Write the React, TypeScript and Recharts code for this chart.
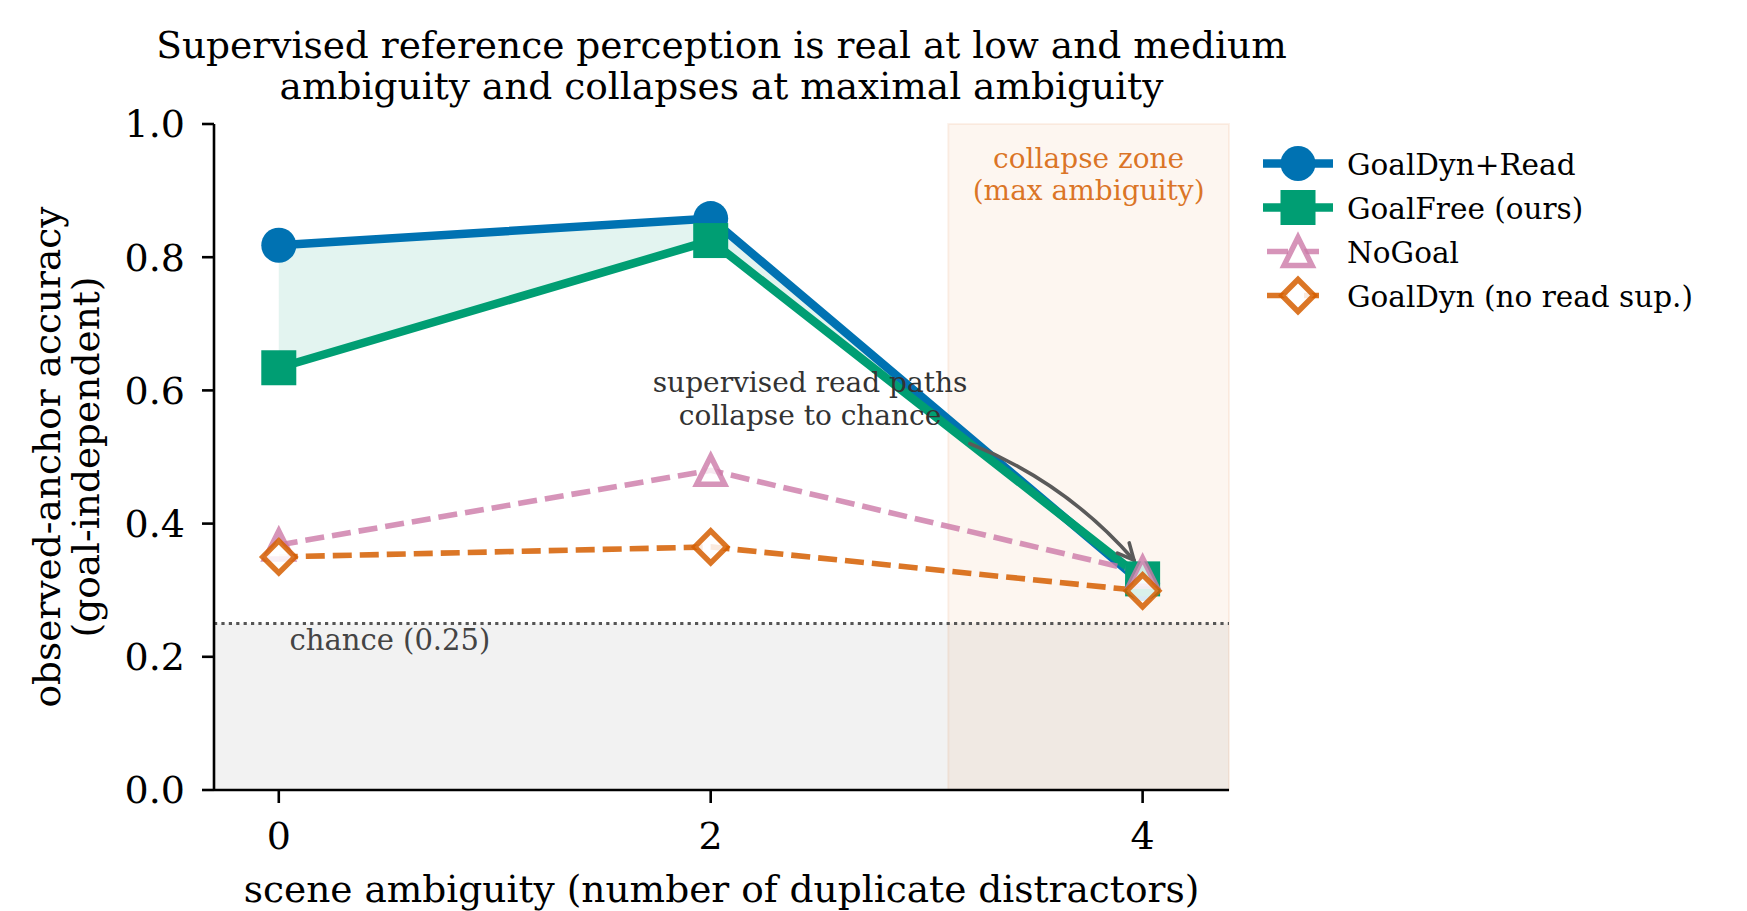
import React from 'react';
import {
  ComposedChart,
  Line,
  Area,
  XAxis,
  YAxis,
  ReferenceArea,
  ReferenceLine,
  ReferenceDot,
} from 'recharts';

// number of duplicate distractors in the scene
const ambiguity = [0, 2, 4];

// observed-anchor accuracy per model
const goalDynRead = [0.818, 0.858, 0.31];
const goalFree = [0.634, 0.825, 0.317];
const noGoal = [0.368, 0.48, 0.327];
const goalDynNoRead = [0.35, 0.365, 0.299];

const xTicks = [0, 2, 4];
const yTicks = [0, 0.2, 0.4, 0.6, 0.8, 1.0];
const chanceLevel = 0.25;
const collapseZone = [3.1, 4.4];
const xDomain = [-0.3, 4.4];

const titleLines = [
  'Supervised reference perception is real at low and medium',
  'ambiguity and collapses at maximal ambiguity',
];
const yLabelLines = ['observed-anchor accuracy', '(goal-independent)'];
const xLabel = 'scene ambiguity (number of duplicate distractors)';
const noteLines = ['supervised read paths', 'collapse to chance'];
const collapseLines = ['collapse zone', '(max ambiguity)'];

const W = 1747;
const H = 911;
const FONT = '"DejaVu Serif", serif';

const BLUE = '#0072B2';
const GREEN = '#009E73';
const PINK = '#CC79A7';
const ORANGE = '#D55E00';

type MarkerKind = 'circle' | 'square' | 'triangle' | 'diamond';

interface SeriesDef {
  key: string;
  name: string;
  values: number[];
  color: string;
  opacity: number;
  width: number;
  dash?: string;
  marker: MarkerKind;
}

const series: SeriesDef[] = [
  { key: 'read', name: 'GoalDyn+Read', values: goalDynRead, color: BLUE, opacity: 1, width: 8.5, marker: 'circle' },
  { key: 'free', name: 'GoalFree (ours)', values: goalFree, color: GREEN, opacity: 1, width: 8.5, marker: 'square' },
  { key: 'nogoal', name: 'NoGoal', values: noGoal, color: PINK, opacity: 0.8, width: 5.6, dash: '19 8', marker: 'triangle' },
  { key: 'noread', name: 'GoalDyn (no read sup.)', values: goalDynNoRead, color: ORANGE, opacity: 0.85, width: 5.6, dash: '19 8', marker: 'diamond' },
];

const rows = ambiguity.map((a, i) => {
  const row: Record<string, any> = { a, gap: [goalFree[i], goalDynRead[i]] };
  series.forEach((s) => {
    row[s.key] = s.values[i];
  });
  return row;
});

function Marker({ kind, cx, cy, color, opacity }: { kind: MarkerKind; cx: number; cy: number; color: string; opacity: number }) {
  if (kind === 'circle') {
    return <circle cx={cx} cy={cy} r={17.5} fill={color} />;
  }
  if (kind === 'square') {
    return <rect x={cx - 17.5} y={cy - 17.5} width={35} height={35} fill={color} />;
  }
  if (kind === 'triangle') {
    const h = 14;
    return (
      <path
        d={`M${cx},${cy - h} L${cx + h},${cy + h} L${cx - h},${cy + h} Z`}
        fill="#fff"
        fillOpacity={opacity}
        stroke={color}
        strokeOpacity={opacity}
        strokeWidth={5.5}
        strokeLinejoin="miter"
      />
    );
  }
  const d = 16;
  return (
    <path
      d={`M${cx},${cy - d} L${cx + d},${cy} L${cx},${cy + d} L${cx - d},${cy} Z`}
      fill="#fff"
      fillOpacity={opacity}
      stroke={color}
      strokeOpacity={opacity}
      strokeWidth={5.5}
    />
  );
}

// curved annotation arrow, bent like an arc3 connector
const CurvedArrow = (props: any) => {
  const { x1, y1, x2, y2 } = props;
  if ([x1, y1, x2, y2].some((v) => typeof v !== 'number')) return <g />;
  const rad = 0.12;
  const dx = x2 - x1;
  const dy = y2 - y1;
  const mx = (x1 + x2) / 2 + rad * dy;
  const my = (y1 + y2) / 2 - rad * dx;
  const ang = Math.atan2(y2 - my, x2 - mx);
  const len = 18;
  const spread = 0.45;
  const ax = x2 - len * Math.cos(ang - spread);
  const ay = y2 - len * Math.sin(ang - spread);
  const bx = x2 - len * Math.cos(ang + spread);
  const by = y2 - len * Math.sin(ang + spread);
  return (
    <g fill="none" stroke="#5a5a5a" strokeWidth={3.6} strokeLinecap="round">
      <path d={`M${x1},${y1} Q${mx},${my} ${x2},${y2}`} />
      <path d={`M${ax},${ay} L${x2},${y2} L${bx},${by}`} />
    </g>
  );
};

const NoteText = (props: any) => (
  <text x={props.cx} y={props.cy} textAnchor="middle" fontSize={28} fill="#333" fontFamily={FONT}>
    <tspan x={props.cx} dy={-8}>{noteLines[0]}</tspan>
    <tspan x={props.cx} dy={33}>{noteLines[1]}</tspan>
  </text>
);

const ChanceText = (props: any) => (
  <text x={props.cx} y={props.cy + 26} fontSize={29} fill="#444" fontFamily={FONT}>
    chance ({chanceLevel.toFixed(2)})
  </text>
);

const CollapseText = (props: any) => (
  <text x={props.cx} y={props.cy} textAnchor="middle" fontSize={28} fill={ORANGE} fillOpacity={0.85} fontFamily={FONT}>
    <tspan x={props.cx} dy={24}>{collapseLines[0]}</tspan>
    <tspan x={props.cx} dy={32}>{collapseLines[1]}</tspan>
  </text>
);

function LegendBox() {
  const x0 = 1263;
  const x1 = 1333;
  const mid = (x0 + x1) / 2;
  return (
    <g>
      {series.map((s, i) => {
        const y = 163.5 + i * 44;
        return (
          <g key={s.key}>
            {s.dash ? (
              <line x1={x0 + 4} x2={x1 - 14} y1={y} y2={y} stroke={s.color} strokeOpacity={s.opacity} strokeWidth={s.width} strokeDasharray="21 16" />
            ) : (
              <line x1={x0} x2={x1} y1={y} y2={y} stroke={s.color} strokeWidth={s.width} />
            )}
            <Marker kind={s.marker} cx={mid} cy={y} color={s.color} opacity={s.opacity} />
            <text x={1347} y={y + 11.5} fontSize={29.5} fill="#000" fontFamily={FONT}>
              {s.name}
            </text>
          </g>
        );
      })}
    </g>
  );
}

export default function App() {
  return (
    <div style={{ position: 'relative', width: W, height: H, fontFamily: FONT, background: '#fff' }}>
      <style>{'body{margin:0}'}</style>
      <ComposedChart
        width={W}
        height={H}
        data={rows}
        margin={{ top: 124, right: 518, bottom: 0, left: 0 }}
      >
        <XAxis
          dataKey="a"
          type="number"
          domain={xDomain}
          ticks={xTicks}
          allowDataOverflow
          height={121}
          stroke="#000"
          axisLine={{ stroke: '#000', strokeWidth: 2.6 }}
          tickLine={{ stroke: '#000', strokeWidth: 2.6 }}
          tickSize={13}
          tickMargin={19}
          tick={{ fill: '#000', fontSize: 38, fontFamily: FONT }}
        />
        <YAxis
          type="number"
          domain={[0, 1]}
          ticks={yTicks}
          allowDataOverflow
          width={214}
          axisLine={{ stroke: '#000', strokeWidth: 2.6 }}
          tickLine={{ stroke: '#000', strokeWidth: 2.6 }}
          tickSize={12}
          tickMargin={17}
          tickFormatter={(v: number) => v.toFixed(1)}
          tick={{ fill: '#000', fontSize: 38, fontFamily: FONT }}
        />
        <ReferenceArea y1={0} y2={chanceLevel} fill="#7f7f7f" fillOpacity={0.1} stroke="none" />
        <ReferenceArea
          x1={collapseZone[0]}
          x2={collapseZone[1]}
          fill={ORANGE}
          fillOpacity={0.06}
          stroke={ORANGE}
          strokeOpacity={0.08}
          strokeWidth={2}
        />
        <ReferenceLine y={chanceLevel} stroke="#555" strokeWidth={3.2} strokeDasharray="3.2 4.2" />
        <ReferenceDot x={0.05} y={chanceLevel} r={0} shape={ChanceText} />
        <Area
          dataKey="gap"
          type="linear"
          fill={GREEN}
          fillOpacity={0.11}
          stroke="none"
          dot={false}
          activeDot={false}
          isAnimationActive={false}
        />
        {series.map((s) => (
          <Line
            key={s.key}
            dataKey={s.key}
            type="linear"
            stroke={s.color}
            strokeOpacity={s.opacity}
            strokeWidth={s.width}
            strokeDasharray={s.dash}
            activeDot={false}
            isAnimationActive={false}
            dot={(p: any) => (
              <Marker key={`${s.key}-${p.index}`} kind={s.marker} cx={p.cx} cy={p.cy} color={s.color} opacity={s.opacity} />
            )}
          />
        ))}
        <ReferenceLine
          segment={[
            { x: 3.2, y: 0.52 },
            { x: 3.96, y: 0.345 },
          ]}
          shape={CurvedArrow}
        />
        <ReferenceDot x={2.46} y={0.585} r={0} shape={NoteText} />
        <ReferenceDot x={3.75} y={0.97} r={0} shape={CollapseText} />
      </ComposedChart>
      <svg
        width={W}
        height={H}
        style={{ position: 'absolute', left: 0, top: 0, pointerEvents: 'none' }}
        fontFamily={FONT}
      >
        <text x={721.5} textAnchor="middle" fontSize={37.5} fill="#000">
          <tspan x={721.5} y={58}>{titleLines[0]}</tspan>
          <tspan x={721.5} y={99}>{titleLines[1]}</tspan>
        </text>
        <text x={721.5} y={902} textAnchor="middle" fontSize={37.5} fill="#000">
          {xLabel}
        </text>
        <text transform="translate(60,457) rotate(-90)" textAnchor="middle" fontSize={37.5} fill="#000">
          {yLabelLines[0]}
        </text>
        <text transform="translate(99,457) rotate(-90)" textAnchor="middle" fontSize={37.5} fill="#000">
          {yLabelLines[1]}
        </text>
        <LegendBox />
      </svg>
    </div>
  );
}
